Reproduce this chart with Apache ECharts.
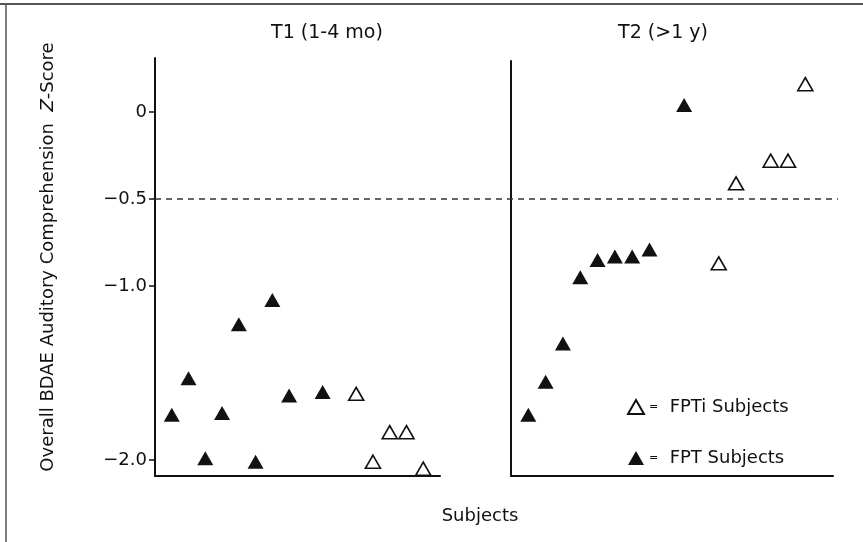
<!DOCTYPE html>
<html>
<head>
<meta charset="utf-8">
<script src="https://cdn.jsdelivr.net/npm/echarts@6/dist/echarts.min.js"></script>
<style>
  html, body { margin: 0; padding: 0; background: #fff; }
  #chart { width: 863px; height: 542px; }
</style>
</head>
<body>
<div id="chart"></div>
<script>
// ---- Data ----
const panelTitles = ['T1 (1-4 mo)', 'T2 (>1 y)'];
const seriesNames = ['FPT Subjects', 'FPTi Subjects'];
const yTickValues = [0, -0.5, -1.0, -2.0];
const yTickLabels = ['0', '\u22120.5', '\u22121.0', '\u22122.0'];
const threshold = -0.5;

// T1 (1-4 mo): subject position and z-score
const t1FptX  = [0, 1, 2, 3, 4, 5, 6, 7, 9];
const t1FptY  = [-1.74, -1.53, -1.99, -1.73, -1.22, -2.01, -1.08, -1.63, -1.61];
const t1FptiX = [11, 12, 13, 14, 15];
const t1FptiY = [-1.62, -2.01, -1.84, -1.84, -2.05];

// T2 (>1 y)
const t2FptX  = [0, 1, 2, 3, 4, 5, 6, 7, 9];
const t2FptY  = [-1.74, -1.55, -1.33, -0.95, -0.85, -0.83, -0.83, -0.79, 0.04];
const t2FptiX = [11, 12, 14, 15, 16];
const t2FptiY = [-0.87, -0.41, -0.28, -0.28, 0.16];

// ---- Chart ----
const FONT = 'DejaVu Sans';
const INK = '#111';
const zip = (xs, ys) => xs.map((x, i) => [x, ys[i]]);

const chart = echarts.init(document.getElementById('chart'), null, { renderer: 'canvas' });

const hiddenAxis = { show: false };
const plainX = (gi, min, max) => ({
  gridIndex: gi, type: 'value', min: min, max: max,
  axisLine: { show: true, onZero: false, lineStyle: { color: INK, width: 2 } },
  axisTick: { show: false }, axisLabel: { show: false }, splitLine: { show: false }
});

const filledStyle = { color: INK, opacity: 1 };
const openStyle = { color: '#fff', borderColor: INK, borderWidth: 1.6, opacity: 1 };

chart.setOption({
  animation: false,
  backgroundColor: '#fff',
  grid: [
    { left: 155, top: 58, width: 285, height: 418 },
    { left: 511, top: 61, width: 322, height: 415 },
    { left: 155, top: 58, width: 683, height: 418 }
  ],
  xAxis: [
    plainX(0, -1, 16),
    plainX(1, -1, 17.6),
    Object.assign({ gridIndex: 2, type: 'value', min: 0, max: 1 }, hiddenAxis)
  ],
  yAxis: [
    {
      gridIndex: 0, type: 'value', min: -2.092, max: 0.31,
      axisLine: { show: true, onZero: false, lineStyle: { color: INK, width: 2 } },
      axisTick: { show: true, length: 6, customValues: yTickValues, lineStyle: { color: INK, width: 1.5 } },
      axisLabel: {
        show: true, customValues: yTickValues, margin: 8,
        fontFamily: FONT, fontSize: 18, color: INK,
        formatter: v => yTickLabels[yTickValues.indexOf(v)]
      },
      splitLine: { show: false }
    },
    {
      gridIndex: 1, type: 'value', min: -2.092, max: 0.293,
      axisLine: { show: true, onZero: false, lineStyle: { color: INK, width: 2 } },
      axisTick: { show: false }, axisLabel: { show: false }, splitLine: { show: false }
    },
    Object.assign({ gridIndex: 2, type: 'value', min: -2.092, max: 0.31 }, hiddenAxis)
  ],
  legend: {
    data: [seriesNames[1], seriesNames[0]],
    orient: 'vertical', left: 622, top: 392,
    itemWidth: 16, itemHeight: 14, itemGap: 31,
    selectedMode: false,
    formatter: n => '{eq|=}  ' + n,
    textStyle: {
      fontFamily: FONT, fontSize: 18, color: INK, lineHeight: 20,
      rich: { eq: { fontFamily: FONT, fontSize: 11, color: INK } }
    }
  },
  series: [
    {
      type: 'line', xAxisIndex: 2, yAxisIndex: 2, silent: true,
      data: [[0, threshold], [1, threshold]], symbol: 'none',
      lineStyle: { color: '#333', width: 1.5, type: [6, 5] }
    },
    {
      type: 'scatter', name: seriesNames[0], xAxisIndex: 0, yAxisIndex: 0,
      data: zip(t1FptX, t1FptY), symbol: 'triangle', symbolSize: [16, 14], itemStyle: filledStyle
    },
    {
      type: 'scatter', name: seriesNames[1], xAxisIndex: 0, yAxisIndex: 0,
      data: zip(t1FptiX, t1FptiY), symbol: 'triangle', symbolSize: [15, 13], itemStyle: openStyle
    },
    {
      type: 'scatter', name: seriesNames[0], xAxisIndex: 1, yAxisIndex: 1,
      data: zip(t2FptX, t2FptY), symbol: 'triangle', symbolSize: [16, 14], itemStyle: filledStyle
    },
    {
      type: 'scatter', name: seriesNames[1], xAxisIndex: 1, yAxisIndex: 1,
      data: zip(t2FptiX, t2FptiY), symbol: 'triangle', symbolSize: [15, 13], itemStyle: openStyle
    }
  ],
  graphic: [
    { type: 'line', shape: { x1: 0, y1: 4, x2: 863, y2: 4 }, style: { stroke: '#555', lineWidth: 2 }, silent: true },
    { type: 'line', shape: { x1: 6, y1: 4, x2: 6, y2: 542 }, style: { stroke: '#555', lineWidth: 1.5 }, silent: true },
    { type: 'text', x: 327, y: 33, style: { text: panelTitles[0], font: '19px "DejaVu Sans"', fill: INK, textAlign: 'center', textVerticalAlign: 'middle' } },
    { type: 'text', x: 663, y: 33, style: { text: panelTitles[1], font: '19px "DejaVu Sans"', fill: INK, textAlign: 'center', textVerticalAlign: 'middle' } },
    { type: 'text', x: 480, y: 516, style: { text: 'Subjects', font: '18px "DejaVu Sans"', fill: INK, textAlign: 'center', textVerticalAlign: 'middle' } },
    {
      type: 'text', x: 48, y: 257, rotation: Math.PI / 2,
      style: {
        text: '{a|Overall BDAE Auditory Comprehension  }{b|Z}{a|-Score}',
        textAlign: 'center', textVerticalAlign: 'middle', fill: INK,
        rich: {
          a: { fontFamily: FONT, fontSize: 18, fill: INK, color: INK },
          b: { fontFamily: FONT, fontSize: 18, fontStyle: 'italic', fill: INK, color: INK }
        }
      }
    }
  ]
});
</script>
</body>
</html>
